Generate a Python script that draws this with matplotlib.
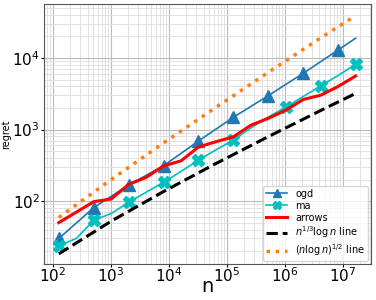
import matplotlib
matplotlib.use("Agg")
import matplotlib.pyplot as plt

# horizon sizes (powers of two)
n_all = [2 ** k for k in range(7, 25)]
n_ogd = [2 ** k for k in (7, 9, 11, 13, 15, 17, 19, 21, 23, 24)]
n_ref = [2 ** k for k in (7, 10, 13, 16, 19, 22, 24)]

ogd = [30, 81, 168, 312, 690, 1483, 2980, 6110, 12930, 18900]
ma = [23.7, 30, 54, 67, 96, 133, 183, 260, 374, 520, 713, 1050, 1500,
      2040, 2900, 4055, 5700, 8130]
arrows = [50, 70, 98, 107, 171, 214, 310, 365, 570, 676, 790, 1150, 1435,
          1865, 2630, 3020, 4000, 5600]
cube_line = [18.3, 52.4, 136, 335, 796, 1845, 3194]
sqrt_line = [59, 200, 650, 2040, 6300, 19100, 39000]

fig = plt.figure(figsize=(3.76, 3.0), dpi=100)
ax = fig.add_axes([0.117, 0.12, 0.869, 0.867])

ax.plot(n_ogd, ogd, color="tab:blue", lw=1.2, marker="^", ms=8,
        markevery=list(range(9)), label="ogd")
ax.plot(n_all, ma, color="c", lw=1.2, marker="X", ms=8,
        markevery=[0, 2, 4, 6, 8, 10, 13, 15, 17], label="ma")
ax.plot(n_all, arrows, color="red", lw=2.2, label="arrows")
ax.plot(n_ref, cube_line, color="black", lw=2.2, ls="--",
        label=r"$n^{1/3}\log n$ line")
ax.plot(n_ref, sqrt_line, color="tab:orange", lw=2.5, ls=":",
        label=r"$(n\log n)^{1/2}$ line")

ax.set_xscale("log")
ax.set_yscale("log")
ax.set_xlim(71, 3.06e7)
ax.set_ylim(13.2, 57000)
ax.grid(True, which="major", color="#bbbbbb", lw=0.8)
ax.grid(True, which="minor", color="#dddddd", lw=0.6)
ax.tick_params(which="major", labelsize=11, length=2, pad=1)
ax.tick_params(axis="x", which="major", pad=0)
ax.tick_params(which="minor", length=0)
for s in ax.spines.values():
    s.set_color("#555555")
ax.set_xlabel("n", fontsize=14, va="top")
ax.xaxis.set_label_coords(0.5, -0.05)
ax.set_ylabel("regret", fontsize=7, labelpad=1)
ax.legend(loc="lower right", fontsize=7, markerscale=0.7, labelspacing=0.2,
          handlelength=2.2, borderaxespad=0.3, handletextpad=0.8,
          borderpad=0.3)

fig.savefig("out.png", dpi=100)
